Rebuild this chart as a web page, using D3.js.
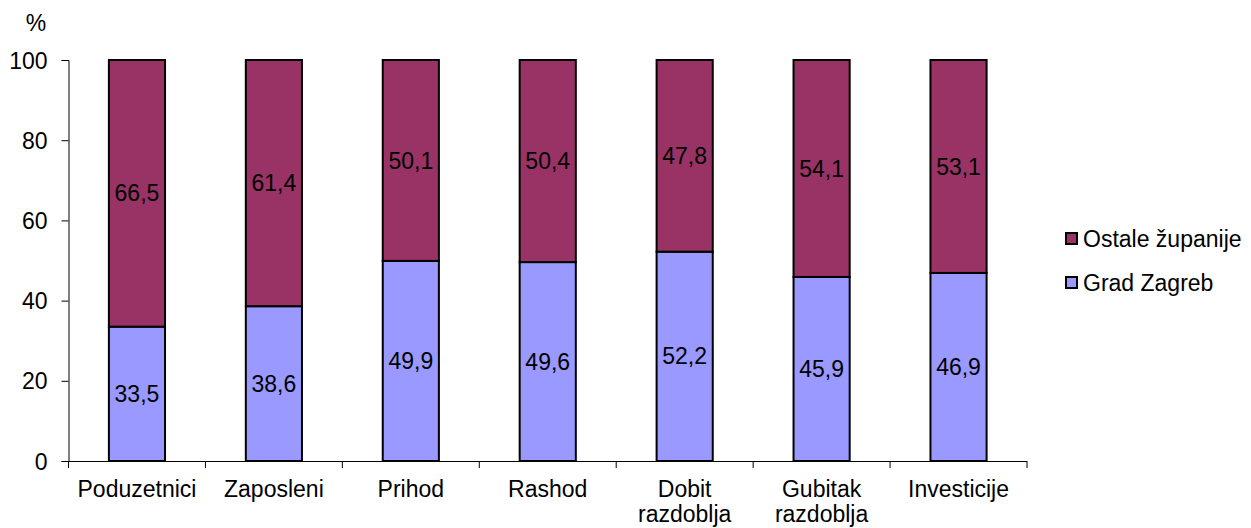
<!DOCTYPE html>
<html>
<head>
<meta charset="utf-8">
<script src="https://cdn.jsdelivr.net/npm/d3@7"></script>
<style>
  body { margin: 0; background: #fff; }
  text { font-family: Arial, "Liberation Sans", sans-serif; fill: #000; }
</style>
</head>
<body>
<svg width="1251" height="528"></svg>
<script>
var categories = [["Poduzetnici"], ["Zaposleni"], ["Prihod"], ["Rashod"],
                  ["Dobit", "razdoblja"], ["Gubitak", "razdoblja"], ["Investicije"]];
var zagreb = [33.5, 38.6, 49.9, 49.6, 52.2, 45.9, 46.9];
var ostale = [66.5, 61.4, 50.1, 50.4, 47.8, 54.1, 53.1];
var yTicks = [0, 20, 40, 60, 80, 100];
var seriesNames = ["Ostale županije", "Grad Zagreb"];
var colors = {zagreb: "#9999FF", ostale: "#993366"};

var svg = d3.select("svg");
var fontSize = 23;

var x = d3.scaleBand()
    .domain(d3.range(categories.length))
    .range([68.5, 1027])
    .paddingInner(0.59)
    .paddingOuter(0.295);
var y = d3.scaleLinear().domain([0, 100]).range([461, 60]);

// y axis
var yAxis = svg.append("g")
    .attr("transform", "translate(68.5,0)")
    .call(d3.axisLeft(y).tickValues(yTicks).tickSize(7).tickPadding(14));
yAxis.selectAll("text").style("font-size", fontSize + "px").attr("dy", "0.35em");
yAxis.selectAll("line, path").attr("stroke", "#000");

svg.append("text")
    .attr("x", 36).attr("y", 31)
    .attr("text-anchor", "middle")
    .style("font-size", fontSize + "px")
    .text("%");

// x axis with ticks between categories
var step = x.step();
var xLine = svg.append("g");
xLine.append("line")
    .attr("x1", 68.5).attr("x2", 1027)
    .attr("y1", y(0) + 0.5).attr("y2", y(0) + 0.5)
    .attr("stroke", "#000");
d3.range(categories.length + 1).forEach(function (i) {
    var tx = 68.5 + i * step;
    xLine.append("line")
        .attr("x1", tx).attr("x2", tx)
        .attr("y1", y(0)).attr("y2", y(0) + 7)
        .attr("stroke", "#000");
});

// stacked bars
var stack = [];
categories.forEach(function (c, i) {
    stack.push({i: i, y0: 0, y1: zagreb[i], v: zagreb[i], color: colors.zagreb});
    stack.push({i: i, y0: zagreb[i], y1: zagreb[i] + ostale[i], v: ostale[i], color: colors.ostale});
});

svg.append("g").selectAll("rect")
    .data(stack)
    .enter().append("rect")
    .attr("x", function (d) { return x(d.i); })
    .attr("y", function (d) { return y(Math.min(d.y1, 100)); })
    .attr("width", x.bandwidth())
    .attr("height", function (d) { return y(d.y0) - y(Math.min(d.y1, 100)); })
    .attr("fill", function (d) { return d.color; })
    .attr("stroke", "#000")
    .attr("stroke-width", 2);

svg.append("g").selectAll("text")
    .data(stack)
    .enter().append("text")
    .attr("x", function (d) { return x(d.i) + x.bandwidth() / 2; })
    .attr("y", function (d) { return (y(d.y0) + y(Math.min(d.y1, 100))) / 2; })
    .attr("dy", "0.35em")
    .attr("text-anchor", "middle")
    .style("font-size", fontSize + "px")
    .text(function (d) { return String(d.v).replace(".", ","); });

// category labels
var cat = svg.append("g").selectAll("text")
    .data(categories)
    .enter().append("text")
    .attr("x", function (d, i) { return x(i) + x.bandwidth() / 2; })
    .attr("y", 497)
    .attr("text-anchor", "middle")
    .style("font-size", fontSize + "px");
cat.each(function (lines, i) {
    var t = d3.select(this);
    lines.forEach(function (l, k) {
        t.append("tspan")
            .attr("x", x(i) + x.bandwidth() / 2)
            .attr("dy", k === 0 ? 0 : 25)
            .text(l);
    });
});

// legend
var legend = svg.append("g").selectAll("g")
    .data(seriesNames)
    .enter().append("g")
    .attr("transform", function (d, i) { return "translate(1066," + (233 + i * 44) + ")"; });
legend.append("rect")
    .attr("width", 11).attr("height", 11)
    .attr("fill", function (d, i) { return i === 0 ? colors.ostale : colors.zagreb; })
    .attr("stroke", "#000")
    .attr("stroke-width", 2);
legend.append("text")
    .attr("x", 17).attr("y", 6)
    .attr("dy", "0.35em")
    .style("font-size", fontSize + "px")
    .text(function (d) { return d; });
</script>
</body>
</html>
